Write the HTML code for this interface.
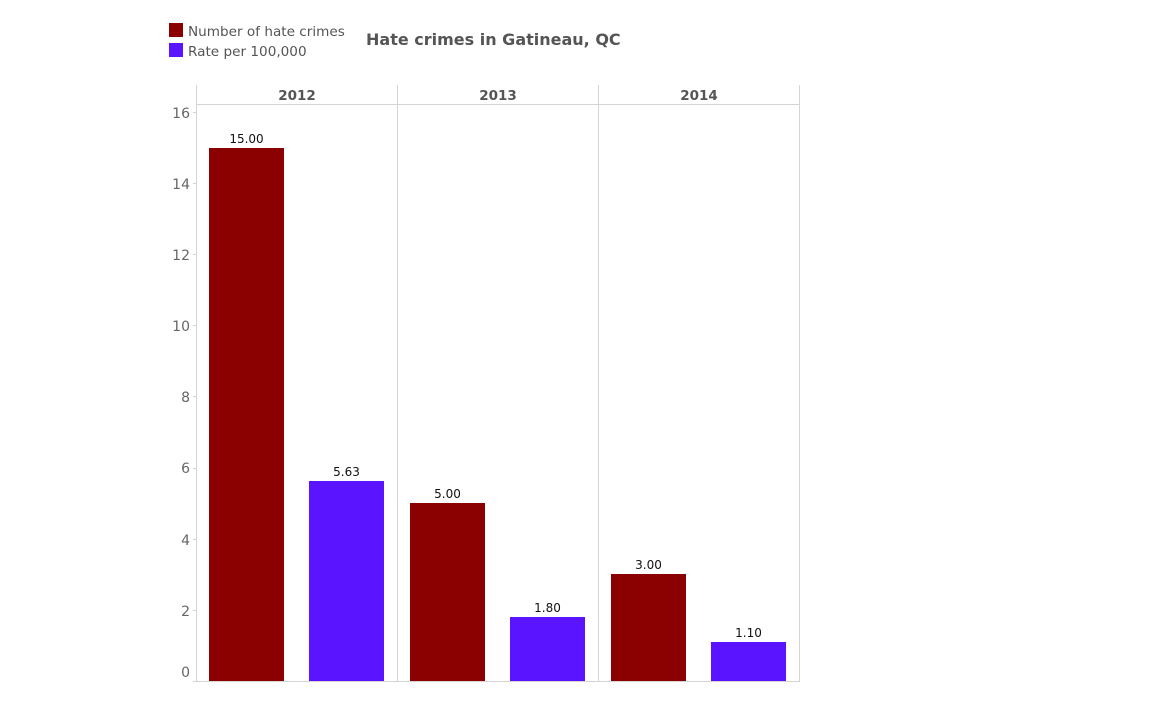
<!DOCTYPE html>
<html><head><meta charset="utf-8"><style>
body{margin:0;background:#fff;width:1152px;height:720px;overflow:hidden}
text{font-family:"DejaVu Sans","Liberation Sans",sans-serif}
</style></head><body>
<svg width="1152" height="720" xmlns="http://www.w3.org/2000/svg">
<rect x="169" y="23" width="14" height="14" fill="#8b0000"/>
<text x="188" y="36" font-size="13.6" fill="#555">Number of hate crimes</text>
<rect x="169" y="43" width="14" height="14" fill="#5a14ff"/>
<text x="188" y="56" font-size="13.6" fill="#555">Rate per 100,000</text>
<text x="366" y="45" font-size="16" font-weight="bold" fill="#555">Hate crimes in Gatineau, QC</text>
<g stroke="#d4d4d4" stroke-width="1">
<line x1="196.5" y1="85" x2="196.5" y2="681"/>
<line x1="397.5" y1="85" x2="397.5" y2="681"/>
<line x1="598.5" y1="85" x2="598.5" y2="681"/>
<line x1="799.5" y1="85" x2="799.5" y2="681"/>
<line x1="196" y1="104.5" x2="800" y2="104.5"/>
<line x1="193" y1="681.5" x2="800" y2="681.5"/>
<line x1="193" y1="112.5" x2="196" y2="112.5"/>
<line x1="193" y1="183.5" x2="196" y2="183.5"/>
<line x1="193" y1="254.5" x2="196" y2="254.5"/>
<line x1="193" y1="325.5" x2="196" y2="325.5"/>
<line x1="193" y1="396.5" x2="196" y2="396.5"/>
<line x1="193" y1="468.5" x2="196" y2="468.5"/>
<line x1="193" y1="539.5" x2="196" y2="539.5"/>
<line x1="193" y1="610.5" x2="196" y2="610.5"/>
</g>
<g font-size="14" fill="#666" text-anchor="end">
<text x="190" y="118">16</text><text x="190" y="189">14</text><text x="190" y="260">12</text>
<text x="190" y="331">10</text><text x="190" y="402">8</text><text x="190" y="473">6</text>
<text x="190" y="545">4</text><text x="190" y="616">2</text><text x="190" y="677">0</text>
</g>
<g font-size="13.5" font-weight="bold" fill="#555" text-anchor="middle">
<text x="297" y="100">2012</text><text x="498" y="100">2013</text><text x="699" y="100">2014</text>
</g>
<rect x="209" y="148" width="75" height="533" fill="#8b0000"/>
<rect x="309" y="481" width="75" height="200" fill="#5a14ff"/>
<rect x="410" y="503" width="75" height="178" fill="#8b0000"/>
<rect x="510" y="617" width="75" height="64" fill="#5a14ff"/>
<rect x="611" y="574" width="75" height="107" fill="#8b0000"/>
<rect x="711" y="642" width="75" height="39" fill="#5a14ff"/>
<g font-size="12" fill="#111" text-anchor="middle">
<text x="246.5" y="143">15.00</text><text x="346.5" y="476">5.63</text>
<text x="447.5" y="498">5.00</text><text x="547.5" y="612">1.80</text>
<text x="648.5" y="569">3.00</text><text x="748.5" y="637">1.10</text>
</g>
</svg>
</body></html>
